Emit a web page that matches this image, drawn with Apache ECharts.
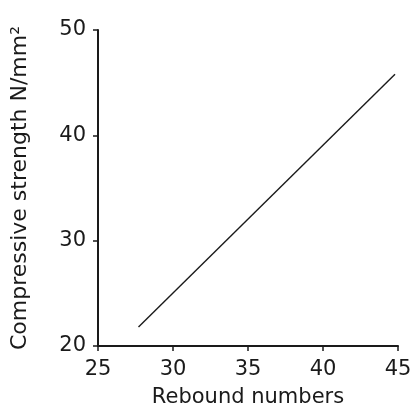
<!DOCTYPE html>
<html>
<head>
<meta charset="utf-8">
<script src="https://cdn.jsdelivr.net/npm/echarts@6/dist/echarts.min.js"></script>
<style>
html, body { margin: 0; padding: 0; background: #fff; }
#chart { width: 414px; height: 408px; }
</style>
</head>
<body>
<div id="chart"></div>
<script>
// values
var rebound = [27.7, 44.8];
var strength = [21.8, 45.8];
var xTicks = [25, 30, 35, 40, 45];
var yTicks = [20, 30, 40, 50];

var chart = echarts.init(document.getElementById('chart'));
var ink = '#1a1a1a';
var font = 'DejaVu Sans';

chart.setOption({
  backgroundColor: '#fff',
  animation: false,
  grid: { left: 98, right: 16, top: 30, bottom: 62, containLabel: false, outerBoundsMode: 'none' },
  xAxis: {
    type: 'value',
    min: xTicks[0],
    max: xTicks[xTicks.length - 1],
    interval: 5,
    name: 'Rebound numbers',
    nameLocation: 'middle',
    nameGap: 41,
    nameTextStyle: { color: ink, fontSize: 21, fontFamily: font },
    axisLine: { lineStyle: { color: ink, width: 2 } },
    axisTick: { show: true, length: 5, lineStyle: { color: ink, width: 1.5 } },
    axisLabel: { color: ink, fontSize: 21, fontFamily: font, margin: 13 },
    splitLine: { show: false }
  },
  yAxis: {
    type: 'value',
    min: yTicks[0],
    max: yTicks[yTicks.length - 1],
    interval: 10,
    name: 'Compressive strength N/mm²',
    nameLocation: 'middle',
    nameGap: 67,
    nameTextStyle: { color: ink, fontSize: 22, fontFamily: font },
    axisLine: { show: true, lineStyle: { color: ink, width: 2 } },
    axisTick: { show: true, length: 5, lineStyle: { color: ink, width: 1.5 } },
    axisLabel: { color: ink, fontSize: 21, fontFamily: font, margin: 12 },
    splitLine: { show: false }
  },
  series: [{
    type: 'line',
    symbol: 'none',
    lineStyle: { color: ink, width: 1.4 },
    data: rebound.map(function (x, i) { return [x, strength[i]]; })
  }]
});
</script>
</body>
</html>
